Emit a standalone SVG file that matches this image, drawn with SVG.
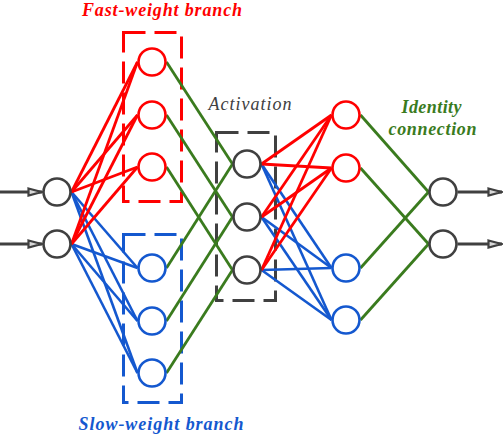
<svg xmlns="http://www.w3.org/2000/svg" width="504" height="436" viewBox="0 0 504 436">
  <style>
    .node { fill: #ffffff; stroke-width: 2.6; }
    .io { stroke: #404040; }
    .fast { stroke: #FF0000; }
    .slow { stroke: #1458CF; }
    .red { stroke: #FF0000; stroke-width: 2.8; fill: none; }
    .blue { stroke: #1458CF; stroke-width: 2.6; fill: none; }
    .green { stroke: #3A7B1E; stroke-width: 2.8; fill: none; }
    .arrow { stroke: #404040; stroke-width: 3; fill: none; }
    .box { fill: none; stroke-width: 3; stroke-dasharray: 22 9; }
    text { font-family: 'Liberation Serif', 'DejaVu Serif', serif; font-size: 18px; font-style: italic; }
  </style>
  <defs>
    <marker id="arrowhead" viewBox="0 0 16 10" refX="15" refY="5" markerWidth="16" markerHeight="10" markerUnits="userSpaceOnUse" orient="auto">
      <path d="M1.5,1.5 L14.5,5 L1.5,8.5 Z" fill="#d8d8d8" stroke="#404040" stroke-width="2.2" stroke-linejoin="miter"/>
    </marker>
  </defs>

  <!-- dashed group boxes -->
  <g id="fast-box">
    <rect x="123.5" y="32.5" width="58" height="169" class="box" stroke="#FF0000"/>
  </g>
  <g id="slow-box">
    <rect x="123.5" y="234.5" width="58" height="168" class="box" stroke="#1458CF"/>
  </g>
  <g id="activation-box">
    <rect x="216.5" y="132.5" width="59" height="168" class="box" stroke="#404040"/>
  </g>

  <g id="connectors">
    <line x1="0" y1="192" x2="42" y2="192" class="arrow" marker-end="url(#arrowhead)"/>
    <line x1="0" y1="244" x2="42" y2="244" class="arrow" marker-end="url(#arrowhead)"/>
    <line x1="457.5" y1="192" x2="502" y2="192" class="arrow" marker-end="url(#arrowhead)"/>
    <line x1="457.5" y1="244" x2="502" y2="244" class="arrow" marker-end="url(#arrowhead)"/>

    <line x1="166.5" y1="62" x2="232.5" y2="164" class="green"/>
    <line x1="166.5" y1="115" x2="232.5" y2="217" class="green"/>
    <line x1="166.5" y1="167" x2="232.5" y2="270" class="green"/>
    <line x1="166.5" y1="268" x2="232.5" y2="164" class="green"/>
    <line x1="166.5" y1="321" x2="232.5" y2="217" class="green"/>
    <line x1="166.5" y1="373" x2="232.5" y2="270" class="green"/>

    <line x1="360.5" y1="115" x2="428.5" y2="192" class="green"/>
    <line x1="360.5" y1="168" x2="428.5" y2="244" class="green"/>
    <line x1="360.5" y1="268" x2="428.5" y2="192" class="green"/>
    <line x1="360.5" y1="320" x2="428.5" y2="244" class="green"/>

    <line x1="71.5" y1="192" x2="137.5" y2="268" class="blue"/>
    <line x1="71.5" y1="192" x2="137.5" y2="321" class="blue"/>
    <line x1="71.5" y1="192" x2="137.5" y2="373" class="blue"/>
    <line x1="71.5" y1="244" x2="137.5" y2="268" class="blue"/>
    <line x1="71.5" y1="244" x2="137.5" y2="321" class="blue"/>
    <line x1="71.5" y1="244" x2="137.5" y2="373" class="blue"/>

    <line x1="71.5" y1="192" x2="137.5" y2="62" class="red"/>
    <line x1="71.5" y1="192" x2="137.5" y2="115" class="red"/>
    <line x1="71.5" y1="192" x2="137.5" y2="167" class="red"/>
    <line x1="71.5" y1="244" x2="137.5" y2="62" class="red"/>
    <line x1="71.5" y1="244" x2="137.5" y2="115" class="red"/>
    <line x1="71.5" y1="244" x2="137.5" y2="167" class="red"/>

    <line x1="261.5" y1="164" x2="331.5" y2="268" class="blue"/>
    <line x1="261.5" y1="164" x2="331.5" y2="320" class="blue"/>
    <line x1="261.5" y1="217" x2="331.5" y2="268" class="blue"/>
    <line x1="261.5" y1="217" x2="331.5" y2="320" class="blue"/>
    <line x1="261.5" y1="270" x2="331.5" y2="268" class="blue"/>
    <line x1="261.5" y1="270" x2="331.5" y2="320" class="blue"/>

    <line x1="261.5" y1="164" x2="331.5" y2="115" class="red"/>
    <line x1="261.5" y1="164" x2="331.5" y2="168" class="red"/>
    <line x1="261.5" y1="217" x2="331.5" y2="115" class="red"/>
    <line x1="261.5" y1="217" x2="331.5" y2="168" class="red"/>
    <line x1="261.5" y1="270" x2="331.5" y2="115" class="red"/>
    <line x1="261.5" y1="270" x2="331.5" y2="168" class="red"/>
  </g>

  <g id="input-1"><circle cx="57" cy="192" r="13.5" class="node io"/></g>
  <g id="input-2"><circle cx="57" cy="244" r="13.5" class="node io"/></g>

  <g id="fast-1"><circle cx="152" cy="62" r="13.5" class="node fast"/></g>
  <g id="fast-2"><circle cx="152" cy="115" r="13.5" class="node fast"/></g>
  <g id="fast-3"><circle cx="152" cy="167" r="13.5" class="node fast"/></g>

  <g id="slow-1"><circle cx="152" cy="268" r="13.5" class="node slow"/></g>
  <g id="slow-2"><circle cx="152" cy="321" r="13.5" class="node slow"/></g>
  <g id="slow-3"><circle cx="152" cy="373" r="13.5" class="node slow"/></g>

  <g id="act-1"><circle cx="247" cy="164" r="13.5" class="node io"/></g>
  <g id="act-2"><circle cx="247" cy="217" r="13.5" class="node io"/></g>
  <g id="act-3"><circle cx="247" cy="270" r="13.5" class="node io"/></g>

  <g id="l3-fast-1"><circle cx="346" cy="115" r="13.5" class="node fast"/></g>
  <g id="l3-fast-2"><circle cx="346" cy="168" r="13.5" class="node fast"/></g>
  <g id="l3-slow-1"><circle cx="346" cy="268" r="13.5" class="node slow"/></g>
  <g id="l3-slow-2"><circle cx="346" cy="320" r="13.5" class="node slow"/></g>

  <g id="output-1"><circle cx="443" cy="192" r="13.5" class="node io"/></g>
  <g id="output-2"><circle cx="443" cy="244" r="13.5" class="node io"/></g>

  <g id="labels">
    <text x="82" y="15.5" font-weight="bold" fill="#FF0000" textLength="160" lengthAdjust="spacing">Fast-weight branch</text>
    <text x="78.5" y="429.5" font-weight="bold" fill="#1458CF" textLength="165" lengthAdjust="spacing">Slow-weight branch</text>
    <text x="208.5" y="109.5" fill="#404040" textLength="83" lengthAdjust="spacing">Activation</text>
    <text x="401.5" y="113" font-weight="bold" fill="#3A7B1E" textLength="60" lengthAdjust="spacing">Identity</text>
    <text x="388.5" y="135" font-weight="bold" fill="#3A7B1E" textLength="88" lengthAdjust="spacing">connection</text>
  </g>
</svg>
